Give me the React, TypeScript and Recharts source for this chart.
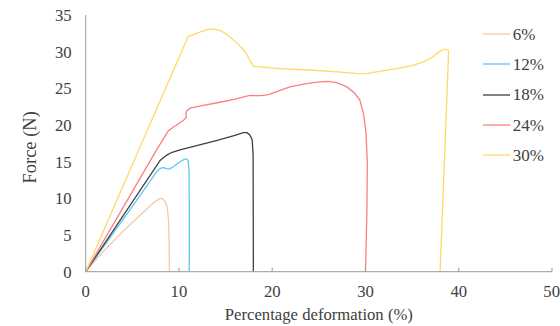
import React from 'react';
import { LineChart, Line, XAxis, YAxis, Legend } from 'recharts';

const FONT = 'Liberation Serif';
const TEXT = '#404040';
const AXIS = '#9a9a9a';

const xTicks = [0, 10, 20, 30, 40, 50];
const yTicks = [0, 5, 10, 15, 20, 25, 30, 35];

const seriesNames = ['6%', '12%', '18%', '24%', '30%'];
const seriesColors = ['#F8C7A4', '#5BC8F2', '#404040', '#FF7C80', '#FFD966'];

// [percentage deformation, force]
const curve6: [number, number][] = [
  [0, 0], [1, 1.5], [2, 2.9], [3, 4.2], [4, 5.5], [5, 6.7], [6, 7.9], [7, 9.1],
  [7.6, 9.7], [8.0, 10.0], [8.3, 9.9], [8.55, 9.5], [8.75, 8.7], [8.88, 7.0],
  [8.95, 4.0], [8.98, 0],
];
const curve12: [number, number][] = [
  [0, 0], [5.5, 9.8], [7.6, 13.6], [8.0, 14.1], [8.3, 14.2], [8.6, 14.1], [8.85, 13.95],
  [9.2, 14.15], [10.0, 14.9], [10.6, 15.35], [10.85, 15.35], [11.0, 15.1], [11.08, 13.5],
  [11.1, 10], [11.1, 0],
];
const curve18: [number, number][] = [
  [0, 0], [8.0, 15.2], [8.3, 15.5], [8.7, 15.9], [9.2, 16.25], [10.1, 16.6], [11.9, 17.2],
  [14.1, 17.9], [16.0, 18.6], [16.9, 18.95], [17.3, 18.95], [17.6, 18.65], [17.85, 18.0],
  [17.95, 16], [17.98, 0],
];
const curve24: [number, number][] = [
  [0, 0], [7.6, 16.6], [8.85, 19.2], [9.5, 19.8], [10.46, 20.6], [10.8, 21.1], [10.75, 21.6],
  [10.85, 21.95], [11.2, 22.3], [12.3, 22.6], [14.0, 23.0], [15.9, 23.5], [17.6, 24.05],
  [18.1, 24.0], [18.8, 24.0], [19.6, 24.15], [21.0, 24.8], [21.9, 25.2], [23.5, 25.6],
  [24.8, 25.85], [26.0, 25.95], [27.0, 25.75], [28.0, 25.2], [28.8, 24.4], [29.4, 23.4],
  [29.8, 21.5], [30.05, 19], [30.2, 15], [30.15, 8], [30.0, 0],
];
const curve30: [number, number][] = [
  [0, 0], [11.0, 32.1], [12.3, 32.7], [13.0, 33.0], [13.7, 33.1], [14.4, 32.9], [15.1, 32.4],
  [16.2, 31.2], [16.9, 30.3], [17.3, 29.6], [17.6, 28.8], [18.0, 28.0], [20.8, 27.7],
  [24.0, 27.5], [27.0, 27.25], [29.0, 27.05], [30.1, 27.0], [31.5, 27.3], [33.3, 27.7],
  [35.0, 28.1], [36.2, 28.6], [37.0, 29.1], [37.6, 29.7], [38.2, 30.2], [38.6, 30.35],
  [38.9, 30.2], [38.9, 29.5], [38.0, 0],
];

const curves = [curve6, curve12, curve18, curve24, curve30];

const toPoints = (c: [number, number][]) => c.map(([x, y]) => ({ x, y }));

const LegendContent = () => (
  <div style={{ fontFamily: FONT, fontSize: 17, color: TEXT }}>
    {seriesNames.map((n, i) => (
      <div key={n} style={{ height: 30.3, display: 'flex', alignItems: 'center' }}>
        <svg width={28} height={4} style={{ display: 'block' }}>
          <line x1={0} y1={2} x2={27} y2={2} stroke={seriesColors[i]} strokeWidth={1.3} />
        </svg>
        <span style={{ marginLeft: 2, lineHeight: 1 }}>{n}</span>
      </div>
    ))}
  </div>
);

export default function App() {
  const tickStyle = { fill: TEXT, fontSize: 16.7, fontFamily: FONT, style: { fontFamily: FONT } };
  return (
    <div style={{ position: 'absolute', left: 0, top: 0, width: 560, height: 326, background: '#fff', fontFamily: FONT }}>
      <LineChart width={560} height={326} margin={{ top: 15, right: 8, bottom: 0, left: 0 }} style={{ fontFamily: FONT }}>
        <XAxis
          type="number"
          dataKey="x"
          domain={[0, 50]}
          ticks={xTicks}
          allowDataOverflow
          height={54.3}
          stroke={AXIS}
          tickSize={-4}
          tickMargin={17}
          tick={tickStyle}
          label={{ value: 'Percentage deformation (%)', position: 'insideBottom', offset: 6, fill: TEXT, fontSize: 16.7, fontFamily: FONT }}
        />
        <YAxis
          type="number"
          domain={[0, 35]}
          ticks={yTicks}
          allowDataOverflow
          width={85.7}
          stroke={AXIS}
          tickLine={false}
          tickSize={6}
          tickMargin={8}
          tick={tickStyle}
          label={{ value: 'Force (N)', angle: -90, position: 'center', dx: -13, dy: 4, fill: TEXT, fontSize: 18.5, fontFamily: FONT }}
        />
        <Legend
          layout="vertical"
          align="center"
          verticalAlign="middle"
          content={<LegendContent />}
          wrapperStyle={{ left: 482.7, top: 19, width: 80, height: 'auto' }}
        />
        {curves.map((c, i) => (
          <Line
            key={seriesNames[i]}
            name={seriesNames[i]}
            data={toPoints(c)}
            dataKey="y"
            type="linear"
            stroke={seriesColors[i]}
            strokeWidth={1.3}
            dot={false}
            activeDot={false}
            isAnimationActive={false}
          />
        ))}
      </LineChart>
    </div>
  );
}
